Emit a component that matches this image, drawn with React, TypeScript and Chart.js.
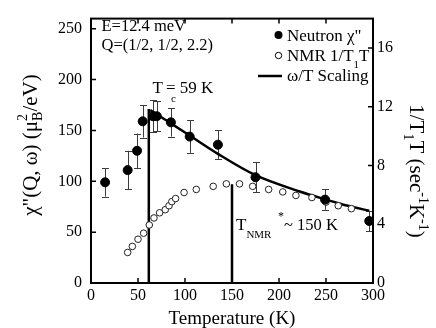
import React, { useEffect, useRef } from "react";
import { Chart, registerables } from "chart.js";
Chart.register(...registerables);

// ---- data ----
const neutronT = [15, 39, 49, 55, 66, 70, 85, 105, 135, 175, 249, 296];
const neutronChi = [99, 111, 130, 159, 164, 164, 158, 144, 136, 104, 82, 61];
const neutronErr = [14, 19, 17, 16, 16, 15, 14, 16, 14, 15, 10, 10];

const nmrT = [39, 44, 50, 56, 62, 67, 73, 79, 83, 86, 90, 99, 112, 130, 144, 158, 172, 189, 204, 218, 235, 250, 263, 277];
const nmrRate = [2.08, 2.49, 2.98, 3.39, 3.95, 4.43, 4.78, 4.99, 5.26, 5.54, 5.75, 6.16, 6.37, 6.58, 6.75, 6.75, 6.58, 6.37, 6.2, 5.96, 5.82, 5.51, 5.26, 5.06];

const scalingT = [63, 70, 85, 105, 135, 175, 222, 250, 265, 280, 296];
const scalingChi = [170, 166, 157, 145, 127, 106, 90, 82, 78, 74.5, 71];

const tcT = [61.5, 61.5];
const tcChi = [0, 171];
const nmrStarT = [150, 150];
const nmrStarChi = [0, 97];

const xTicks = [0, 50, 100, 150, 200, 250, 300];
const leftTicks = [0, 50, 100, 150, 200, 250];
const rightTicks = [0, 4, 8, 12, 16];

const FONT = "'Liberation Serif', 'Times New Roman', Times, serif";

type Run = { t: string; s: number; dy?: number; stack?: boolean };

function runsWidth(ctx: CanvasRenderingContext2D, runs: Run[]) {
  let w = 0;
  let i = 0;
  while (i < runs.length) {
    const r = runs[i];
    ctx.font = `${r.s}px ${FONT}`;
    let adv = ctx.measureText(r.t).width;
    if (r.stack && i + 1 < runs.length) {
      const n = runs[i + 1];
      ctx.font = `${n.s}px ${FONT}`;
      adv = Math.max(adv, ctx.measureText(n.t).width);
      i += 2;
    } else i += 1;
    w += adv;
  }
  return w;
}

function drawRuns(ctx: CanvasRenderingContext2D, x: number, y: number, runs: Run[]) {
  let cx = x;
  let i = 0;
  ctx.textBaseline = "alphabetic";
  ctx.textAlign = "left";
  while (i < runs.length) {
    const r = runs[i];
    ctx.font = `${r.s}px ${FONT}`;
    ctx.fillText(r.t, cx, y + (r.dy || 0));
    let adv = ctx.measureText(r.t).width;
    if (r.stack && i + 1 < runs.length) {
      const n = runs[i + 1];
      ctx.font = `${n.s}px ${FONT}`;
      ctx.fillText(n.t, cx, y + (n.dy || 0));
      adv = Math.max(adv, ctx.measureText(n.t).width);
      i += 2;
    } else i += 1;
    cx += adv;
  }
}

const overlay = {
  id: "overlay",
  beforeDatasetsDraw(chart: any) {
    const { ctx } = chart;
    const xs = chart.scales.x;
    const ys = chart.scales.y;
    ctx.save();
    ctx.strokeStyle = "#3c3c3c";
    ctx.lineWidth = 1;
    neutronT.forEach((t, i) => {
      const px = Math.round(xs.getPixelForValue(t)) + 0.5;
      const top = ys.getPixelForValue(neutronChi[i] + neutronErr[i]);
      const bot = ys.getPixelForValue(neutronChi[i] - neutronErr[i]);
      ctx.beginPath();
      ctx.moveTo(px, top);
      ctx.lineTo(px, bot);
      ctx.moveTo(px - 3.5, Math.round(top) + 0.5);
      ctx.lineTo(px + 3.5, Math.round(top) + 0.5);
      ctx.moveTo(px - 3.5, Math.round(bot) + 0.5);
      ctx.lineTo(px + 3.5, Math.round(bot) + 0.5);
      ctx.stroke();
    });
    ctx.restore();
  },
  afterDraw(chart: any) {
    const { ctx, chartArea } = chart;
    const { left, right, top, bottom } = chartArea;
    const xs = chart.scales.x;
    const ys = chart.scales.y;
    const y1 = chart.scales.y1;
    ctx.save();
    ctx.strokeStyle = "#000";
    ctx.fillStyle = "#000";
    ctx.lineWidth = 2;
    ctx.strokeRect(left, top, right - left, bottom - top);
    ctx.lineWidth = 1.5;
    ctx.beginPath();
    xTicks.forEach((v) => {
      const px = xs.getPixelForValue(v);
      ctx.moveTo(px, bottom);
      ctx.lineTo(px, bottom - 5);
      ctx.moveTo(px, top);
      ctx.lineTo(px, top + 5);
    });
    leftTicks.forEach((v) => {
      const py = ys.getPixelForValue(v);
      ctx.moveTo(left, py);
      ctx.lineTo(left + 5, py);
    });
    rightTicks.forEach((v) => {
      const py = y1.getPixelForValue(v);
      ctx.moveTo(right, py);
      ctx.lineTo(right - 5, py);
    });
    ctx.stroke();

    // annotations
    drawRuns(ctx, 101.5, 31, [{ t: "E=12.4 meV", s: 16.5 }]);
    drawRuns(ctx, 101.5, 50, [{ t: "Q=(1/2, 1/2, 2.2)", s: 16.5 }]);
    drawRuns(ctx, 152.5, 93, [{ t: "T", s: 17 }]);
    drawRuns(ctx, 171, 102, [{ t: "c", s: 11 }]);
    drawRuns(ctx, 166, 93, [{ t: "= 59 K", s: 17 }]);
    drawRuns(ctx, 236, 230, [
      { t: "T", s: 17 },
      { t: "NMR", s: 11, dy: 8, stack: true },
      { t: "", s: 11 },
    ]);
    drawRuns(ctx, 278, 220, [{ t: "*", s: 12 }]);
    drawRuns(ctx, 284, 230, [{ t: "~ 150 K", s: 16.5 }]);

    // legend
    ctx.beginPath();
    ctx.arc(278.5, 35, 4, 0, Math.PI * 2);
    ctx.fill();
    ctx.beginPath();
    ctx.lineWidth = 1;
    ctx.arc(278.5, 55.5, 3.2, 0, Math.PI * 2);
    ctx.stroke();
    ctx.beginPath();
    ctx.lineWidth = 2.5;
    ctx.moveTo(258, 76);
    ctx.lineTo(282, 76);
    ctx.stroke();
    drawRuns(ctx, 287, 40.5, [{ t: "Neutron χ\"", s: 17 }]);
    drawRuns(ctx, 287, 60.5, [
      { t: "NMR 1/T", s: 17 },
      { t: "1", s: 11, dy: 7 },
      { t: "T", s: 17 },
    ]);
    drawRuns(ctx, 287, 81, [{ t: "ω/T Scaling", s: 17 }]);

    // axis titles
    const xTitle: Run[] = [{ t: "Temperature (K)", s: 19 }];
    drawRuns(ctx, (left + right) / 2 - runsWidth(ctx, xTitle) / 2, 324, xTitle);

    const leftTitle: Run[] = [
      { t: "χ\"(Q, ω) (μ", s: 21 },
      { t: "B", s: 14, dy: 5, stack: true },
      { t: "2", s: 14, dy: -10 },
      { t: "/eV)", s: 21 },
    ];
    ctx.save();
    ctx.translate(37, 145);
    ctx.rotate(-Math.PI / 2);
    drawRuns(ctx, -runsWidth(ctx, leftTitle) / 2, 0, leftTitle);
    ctx.restore();

    const rightTitle: Run[] = [
      { t: "1/T", s: 21 },
      { t: "1", s: 14, dy: 6 },
      { t: "T (sec", s: 21 },
      { t: "-1", s: 14, dy: -9 },
      { t: "K", s: 21 },
      { t: "-1", s: 14, dy: -9 },
      { t: ")", s: 21 },
    ];
    ctx.save();
    ctx.translate(410, 171);
    ctx.rotate(Math.PI / 2);
    drawRuns(ctx, -runsWidth(ctx, rightTitle) / 2, 0, rightTitle);
    ctx.restore();

    ctx.restore();
  },
};

export default function App() {
  const ref = useRef<HTMLCanvasElement>(null);
  useEffect(() => {
    document.body.style.margin = "0";
    const tickFont = { family: FONT, size: 16 };
    const chart = new Chart(ref.current as HTMLCanvasElement, {
      type: "scatter",
      data: {
        datasets: [
          {
            label: "Neutron χ\"",
            data: neutronT.map((t, i) => ({ x: t, y: neutronChi[i] })),
            yAxisID: "y",
            pointRadius: 4.5,
            pointHoverRadius: 4.5,
            backgroundColor: "#000",
            borderColor: "#000",
            showLine: false,
          },
          {
            label: "NMR 1/T1T",
            data: nmrT.map((t, i) => ({ x: t, y: nmrRate[i] })),
            yAxisID: "y1",
            pointRadius: 3.3,
            pointBorderWidth: 1,
            backgroundColor: "#fff",
            borderColor: "#222",
            showLine: false,
          },
          {
            label: "ω/T Scaling",
            data: scalingT.map((t, i) => ({ x: t, y: scalingChi[i] })),
            yAxisID: "y",
            showLine: true,
            pointRadius: 0,
            borderColor: "#000",
            borderWidth: 2.5,
            cubicInterpolationMode: "monotone",
          },
          {
            label: "Tc",
            data: tcT.map((t, i) => ({ x: t, y: tcChi[i] })),
            yAxisID: "y",
            showLine: true,
            pointRadius: 0,
            borderColor: "#000",
            borderWidth: 2.5,
          },
          {
            label: "T_NMR*",
            data: nmrStarT.map((t, i) => ({ x: t, y: nmrStarChi[i] })),
            yAxisID: "y",
            showLine: true,
            pointRadius: 0,
            borderColor: "#000",
            borderWidth: 2.5,
          },
        ],
      },
      options: {
        animation: false,
        responsive: false,
        devicePixelRatio: 1,
        layout: { padding: { top: 10, left: 0, right: 0, bottom: 0 } },
        plugins: { legend: { display: false }, tooltip: { enabled: false } },
        events: [],
        scales: {
          x: {
            type: "linear",
            min: 0,
            max: 300,
            grid: { display: false, drawTicks: false },
            border: { display: false },
            ticks: { font: tickFont, color: "#000", padding: 3, maxRotation: 0 },
            afterBuildTicks: (s: any) => {
              s.ticks = xTicks.map((v) => ({ value: v }));
            },
            afterFit: (s: any) => {
              s.height = 45;
            },
          },
          y: {
            type: "linear",
            position: "left",
            min: 0,
            max: 260,
            grid: { display: false, drawTicks: false },
            border: { display: false },
            ticks: { font: tickFont, color: "#000", padding: 9 },
            afterBuildTicks: (s: any) => {
              s.ticks = leftTicks.map((v) => ({ value: v }));
            },
            afterFit: (s: any) => {
              s.width = 91;
            },
          },
          y1: {
            type: "linear",
            position: "right",
            min: 0,
            max: 18,
            grid: { display: false, drawTicks: false },
            border: { display: false },
            ticks: { font: tickFont, color: "#000", padding: 4 },
            afterBuildTicks: (s: any) => {
              s.ticks = rightTicks.map((v) => ({ value: v }));
            },
            afterFit: (s: any) => {
              s.width = 63;
            },
          },
        },
      },
      plugins: [overlay],
    } as any);
    return () => chart.destroy();
  }, []);
  return (
    <div style={{ width: 436, height: 328 }}>
      <canvas ref={ref} width={436} height={328} style={{ display: "block", width: 436, height: 328 }} />
    </div>
  );
}
